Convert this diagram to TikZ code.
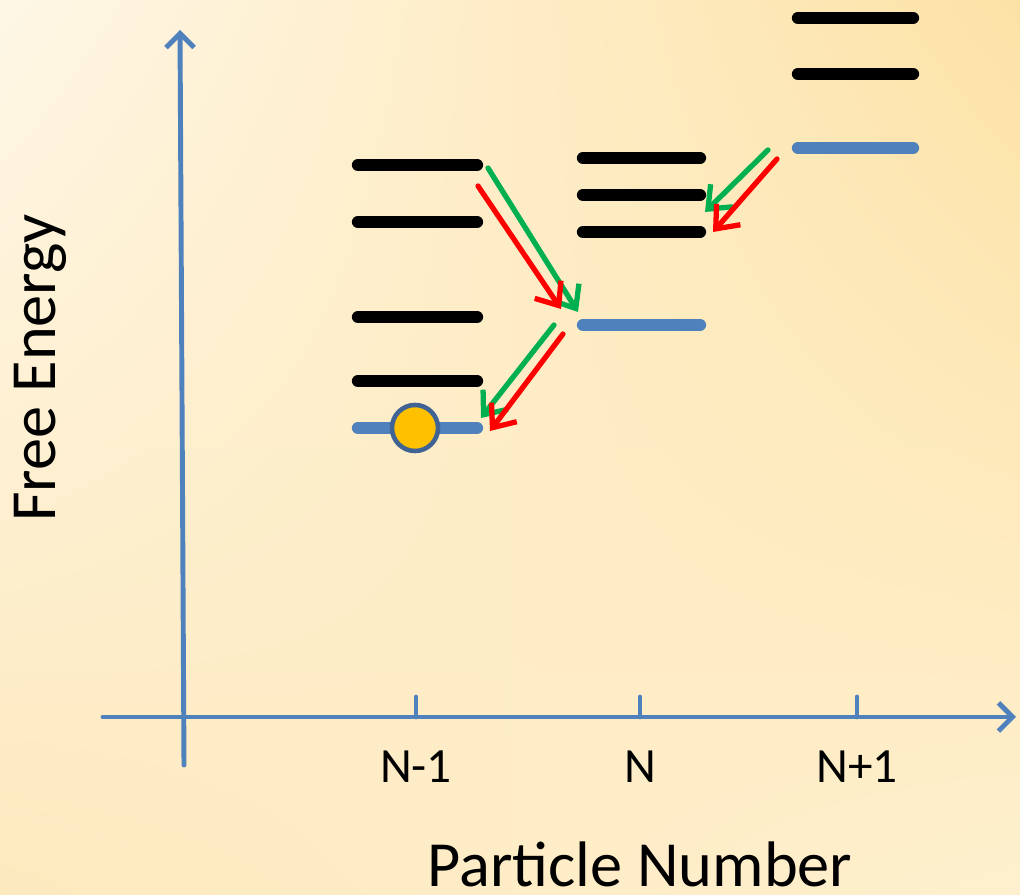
\documentclass[tikz,border=0pt]{standalone}
\usepackage{fontspec}
\setmainfont{Carlito}
\usetikzlibrary{arrows.meta,shadings}
\definecolor{axisblue}{HTML}{4F81BD}
\definecolor{rimblue}{HTML}{3F6494}
\definecolor{hopgreen}{HTML}{00B050}
\definecolor{hopred}{HTML}{FF0000}
\definecolor{ball}{HTML}{FFC000}
\definecolor{bgul}{HTML}{FEF7E6}
\definecolor{bgur}{HTML}{FDE2A6}
\definecolor{bgll}{HTML}{FDE9BE}
\definecolor{bglr}{HTML}{FEF0CE}
\begin{document}
\begin{tikzpicture}[x=0.01cm, y=-0.01cm]
\tikzset{
    axis/.style={axisblue, line width=1.4pt, line cap=round},
    tip/.style={-{Straight Barb[length=4pt,width=8pt,line width=1.4pt]}},
    level/.style={line width=3.5pt, line cap=round},
    ground/.style={level, axisblue},
    hop/.style={line width=1.5pt, line cap=round, -{Straight Barb[length=5.5pt,width=9pt]}},
    ticklabel/.style={font=\fontsize{14}{17}\selectfont},
    title/.style={font=\fontsize{18.3}{22}\selectfont}
}

% background
\shade[upper left=bgul, upper right=bgur, lower left=bgll, lower right=bglr]
    (0,0) rectangle (1020,895);
\useasboundingbox (0,0) rectangle (1020,895);

% axes
\coordinate (ybot) at (184,765);
\coordinate (ytop) at (180,30);
\coordinate (xleft) at (103,717);
\coordinate (xright) at (1016,717);
\draw[axis, tip] (ybot) -- (ytop);
\draw[axis, tip] (xleft) -- (xright);

% ticks
\foreach \x/\lab/\nm in {416/N-1/nm, 640/N/n, 857/N+1/np} {
    \draw[axis] (\x,697) -- (\x,717);
    \node[ticklabel] (\nm) at (\x,767) {\lab};
}

\node[title, rotate=90] (energy) at (40,368) {Free Energy};
\node[title, anchor=base, inner sep=0pt] (number) at (640,887) {Particle Number};

% levels N-1
\foreach \y in {165,222,317,381}
    \draw[level] (358,\y) -- (477,\y);
\draw[ground] (358,428) -- (477,428);
% levels N
\foreach \y in {158,195,232}
    \draw[level] (583,\y) -- (700,\y);
\draw[ground] (583,325) -- (700,325);
% levels N+1
\foreach \y in {18,74}
    \draw[level] (798,\y) -- (913,\y);
\draw[ground] (798,148) -- (913,148);

\node[circle, draw=rimblue, line width=1.3pt, fill=ball,
      minimum size=0.46cm, inner sep=0pt] (particle) at (415,428) {};

% hops
\coordinate (g1a) at (488,168);  \coordinate (g1b) at (578,312);
\coordinate (r1a) at (478,186);  \coordinate (r1b) at (561,309);
\coordinate (g2a) at (554,325);  \coordinate (g2b) at (481,418);
\coordinate (r2a) at (563,334);  \coordinate (r2b) at (490,431);
\coordinate (g3a) at (768,150);  \coordinate (g3b) at (705,212);
\coordinate (r3a) at (777,159);  \coordinate (r3b) at (713,232);
\draw[hop, hopgreen] (g1a) -- (g1b);
\draw[hop, hopred] (r1a) -- (r1b);
\draw[hop, hopgreen] (g2a) -- (g2b);
\draw[hop, hopred] (r2a) -- (r2b);
\draw[hop, hopgreen] (g3a) -- (g3b);
\draw[hop, hopred] (r3a) -- (r3b);
\end{tikzpicture}
\end{document}
